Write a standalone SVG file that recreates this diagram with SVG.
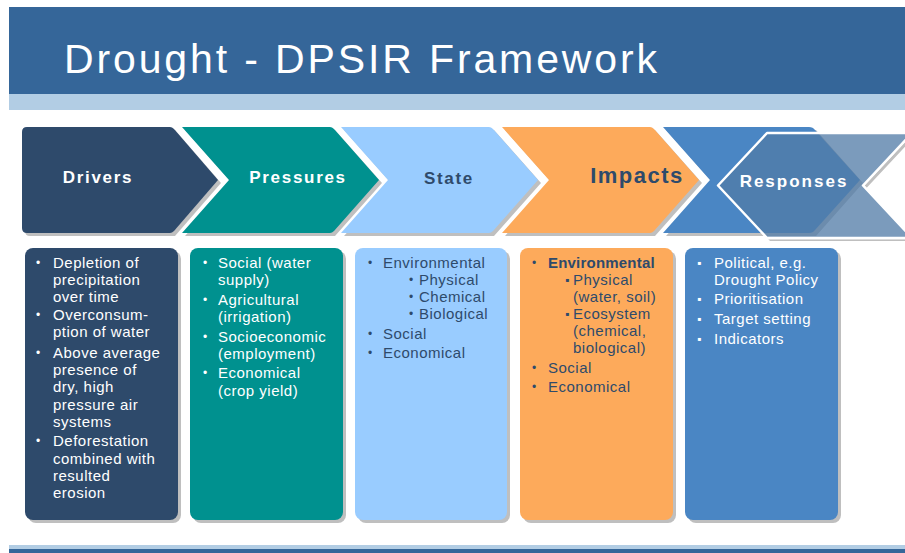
<svg xmlns="http://www.w3.org/2000/svg" width="905" height="553" viewBox="0 0 905 553">
<style>
.lbl{font-family:"Liberation Sans",Arial,sans-serif;font-weight:bold;font-size:17px;letter-spacing:1.7px;text-anchor:middle}
.t{font-family:"Liberation Sans",Arial,sans-serif;font-size:15px;letter-spacing:0.5px}
.b{font-family:"Liberation Sans",Arial,sans-serif;font-size:12px}
.w{fill:#FFFFFF}
.n{fill:#2E4A6B}
.sh{fill:#BFBFBF}
</style>
<defs>
<path id="ovl" d="M767,133 L912,133 L863,185.5 L912,238 L767,238 L718,185.5 Z"/>
<mask id="ovm" maskUnits="userSpaceOnUse" x="0" y="0" width="905" height="553">
<rect width="905" height="553" fill="#FFFFFF"/>
<use href="#ovl" fill="#000000" stroke="#000000" stroke-width="2.5"/>
</mask>
</defs>
<rect width="905" height="553" fill="#FFFFFF"/>

<g id="title">
<rect x="9" y="7" width="896" height="87" fill="#356699"/>
<rect x="9" y="94" width="896" height="16" fill="#B2CDE4"/>
<text x="64" y="73" font-family="Liberation Sans, Arial, sans-serif" font-size="41" fill="#FFFFFF" textLength="593" lengthAdjust="spacing">Drought - DPSIR Framework</text>
</g>

<g id="footer">
<rect x="9" y="545" width="896" height="4" fill="#B2CDE4"/>
<rect x="9" y="549" width="896" height="4" fill="#356699"/>
</g>

<!-- chevrons -->
<g id="chev-drivers">
<path class="sh" d="M30,130 L175,130 L221,183 L175,236 L30,236 Q25,236 25,231 L25,135 Q25,130 30,130 Z"/>
<path fill="#2E4A6B" d="M27,127 L170,127 Q172,127 174,129 L218,180 L174,231 Q172,233 170,233 L27,233 Q22,233 22,228 L22,132 Q22,127 27,127 Z"/>
<text class="lbl w" x="98" y="183">Drivers</text>
</g>
<g id="chev-pressures">
<path class="sh" d="M185,130 L335,130 L382,183 L335,236 L185,236 L232,183 Z"/>
<path fill="#00918F" d="M182,127 L330,127 Q332,127 334,129 L379,180 L334,231 Q332,233 330,233 L182,233 L229,180 Z"/>
<text class="lbl w" x="298" y="183">Pressures</text>
</g>
<g id="chev-state">
<path class="sh" d="M344,130 L494,130 L541,183 L494,236 L344,236 L391,183 Z"/>
<path fill="#99CCFF" d="M341,127 L489,127 Q491,127 493,129 L538,180 L493,231 Q491,233 489,233 L341,233 L388,180 Z"/>
<text class="lbl n" x="449" y="184">State</text>
</g>
<g id="chev-impacts">
<path class="sh" d="M505,130 L655,130 L702,183 L655,236 L505,236 L552,183 Z"/>
<path fill="#FDAA5B" d="M502,127 L650,127 Q652,127 654,129 L699,180 L654,231 Q652,233 650,233 L502,233 L549,180 Z"/>
<text class="lbl n" x="637" y="183" style="font-size:22px;letter-spacing:1.5px">Impacts</text>
</g>
<g id="chev-responses">
<path class="sh" d="M666,130 L816,130 L863,183 L816,236 L666,236 L713,183 Z"/>
<path fill="#4A86C4" d="M663,127 L809,127 Q813,127 815,130 L860,180 L815,230 Q813,233 809,233 L663,233 L710,180 Z"/>
<g mask="url(#ovm)"><use href="#ovl" class="sh" transform="translate(3,3)"/></g>
<use href="#ovl" fill="#527CA7" fill-opacity="0.76" stroke="#FFFFFF" stroke-width="2.5" stroke-linejoin="round"/>
<text class="lbl w" x="794" y="187" style="letter-spacing:2px">Responses</text>
</g>

<!-- boxes -->
<g id="box-drivers">
<rect class="sh" x="28" y="251" width="153" height="272" rx="8"/>
<rect x="25" y="248" width="153" height="272" rx="8" fill="#2E4A6B"/>
<g class="w">
<text class="b" x="36" y="267">•</text>
<text class="b" x="36" y="319">•</text>
<text class="b" x="36" y="357">•</text>
<text class="b" x="36" y="445">•</text>
<text class="t" x="53" y="268">Depletion of</text>
<text class="t" x="53" y="285">precipitation</text>
<text class="t" x="53" y="302">over time</text>
<text class="t" x="53" y="320">Overconsum-</text>
<text class="t" x="53" y="337">ption of water</text>
<text class="t" x="53" y="358">Above average</text>
<text class="t" x="53" y="375">presence of</text>
<text class="t" x="53" y="392">dry, high</text>
<text class="t" x="53" y="410">pressure air</text>
<text class="t" x="53" y="427">systems</text>
<text class="t" x="53" y="446">Deforestation</text>
<text class="t" x="53" y="464">combined with</text>
<text class="t" x="53" y="481">resulted</text>
<text class="t" x="53" y="498">erosion</text>
</g>
</g>

<g id="box-pressures">
<rect class="sh" x="193" y="251" width="153" height="272" rx="8"/>
<rect x="190" y="248" width="153" height="272" rx="8" fill="#00918F"/>
<g class="w">
<text class="b" x="203" y="267">•</text>
<text class="b" x="203" y="304">•</text>
<text class="b" x="203" y="341">•</text>
<text class="b" x="203" y="377">•</text>
<text class="t" x="218" y="268">Social (water</text>
<text class="t" x="218" y="285">supply)</text>
<text class="t" x="218" y="305">Agricultural</text>
<text class="t" x="218" y="322">(irrigation)</text>
<text class="t" x="218" y="342">Socioeconomic</text>
<text class="t" x="218" y="359">(employment)</text>
<text class="t" x="218" y="378">Economical</text>
<text class="t" x="218" y="396">(crop yield)</text>
</g>
</g>

<g id="box-state">
<rect class="sh" x="358" y="251" width="152" height="272" rx="8"/>
<rect x="355" y="248" width="152" height="272" rx="8" fill="#99CCFF"/>
<g class="n">
<text class="b" x="368" y="267">•</text>
<text class="b" x="409" y="284">•</text>
<text class="b" x="409" y="301">•</text>
<text class="b" x="409" y="318">•</text>
<text class="b" x="368" y="338">•</text>
<text class="b" x="368" y="357">•</text>
<text class="t" x="383" y="268">Environmental</text>
<text class="t" x="419" y="285">Physical</text>
<text class="t" x="419" y="302">Chemical</text>
<text class="t" x="419" y="319">Biological</text>
<text class="t" x="383" y="339">Social</text>
<text class="t" x="383" y="358">Economical</text>
</g>
</g>

<g id="box-impacts">
<rect class="sh" x="523" y="251" width="153" height="272" rx="8"/>
<rect x="520" y="248" width="153" height="272" rx="8" fill="#FDAA5B"/>
<g class="n">
<text class="b" x="532" y="267">•</text>
<text class="b" x="565" y="284">▪</text>
<text class="b" x="565" y="318">▪</text>
<text class="b" x="532" y="372">•</text>
<text class="b" x="532" y="391">•</text>
<text class="t" x="548" y="268" font-weight="bold" style="letter-spacing:0.2px">Environmental</text>
<text class="t" x="573" y="285">Physical</text>
<text class="t" x="573" y="302">(water, soil)</text>
<text class="t" x="573" y="319">Ecosystem</text>
<text class="t" x="573" y="336">(chemical,</text>
<text class="t" x="573" y="353">biological)</text>
<text class="t" x="548" y="373">Social</text>
<text class="t" x="548" y="392">Economical</text>
</g>
</g>

<g id="box-responses">
<rect class="sh" x="688" y="251" width="153" height="272" rx="8"/>
<rect x="685" y="248" width="153" height="272" rx="8" fill="#4A86C4"/>
<g class="w">
<text class="b" x="697" y="267">▪</text>
<text class="b" x="697" y="303">▪</text>
<text class="b" x="697" y="323">▪</text>
<text class="b" x="697" y="343">▪</text>
<text class="t" x="714" y="268">Political, e.g.</text>
<text class="t" x="714" y="285">Drought Policy</text>
<text class="t" x="714" y="304">Prioritisation</text>
<text class="t" x="714" y="324">Target setting</text>
<text class="t" x="714" y="344">Indicators</text>
</g>
</g>
</svg>
